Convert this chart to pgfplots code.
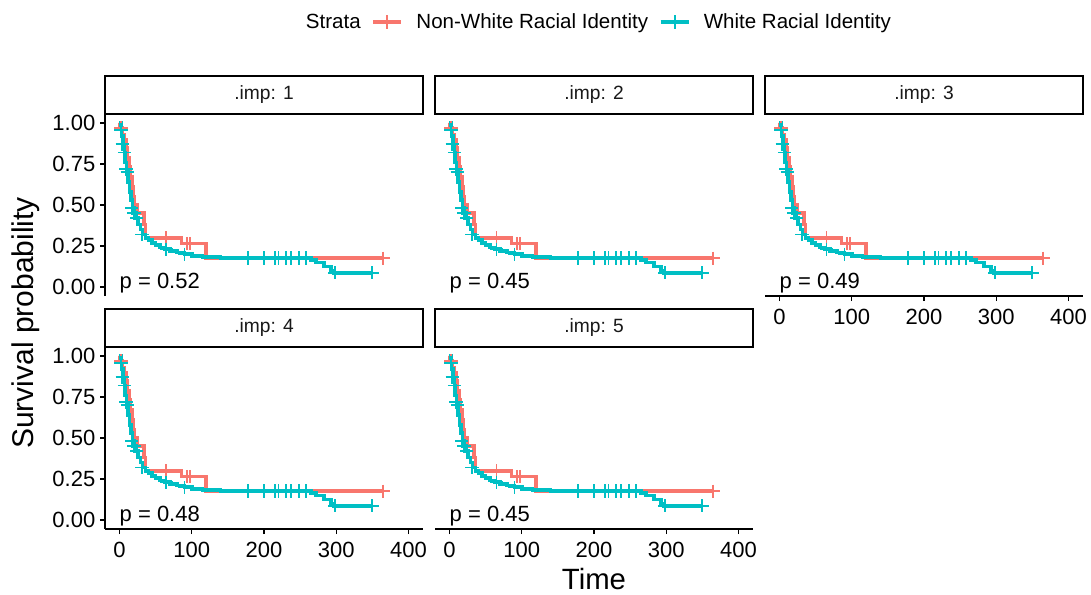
\documentclass[border=0pt]{standalone}
\usepackage{fontspec}
\setmainfont{Liberation Sans}
\usepackage{pgfplots}
\usepackage{pgfplotstable}
\pgfplotsset{compat=1.18}
\definecolor{nw}{HTML}{F8766D}
\definecolor{wh}{HTML}{00BFC4}

% Non-White Racial Identity: KM curve (time, survival)
\pgfplotstableread{
t s
0 1.00
1 0.97
4 0.93
6 0.90
9 0.85
11 0.79
13 0.73
15 0.67
17 0.61
19 0.55
21 0.50
24 0.45
34 0.38
36 0.30
86 0.265
120 0.175
365 0.175
}\nwcurve
\pgfplotstableread{
t s
2 0.97
65 0.30
93 0.265
98 0.265
365 0.175
}\nwcens

% White Racial Identity: KM curve (time, survival)
\pgfplotstableread{
t s
0 1.00
2 0.96
3 0.92
5 0.87
7 0.82
8 0.76
10 0.70
12 0.64
14 0.58
16 0.53
18 0.48
20 0.45
23 0.42
26 0.38
29 0.35
32 0.32
36 0.30
40 0.285
45 0.27
50 0.255
56 0.24
63 0.23
70 0.22
80 0.21
90 0.20
100 0.19
115 0.182
140 0.177
265 0.165
272 0.15
283 0.125
293 0.10
297 0.087
350 0.087
}\whcurve
\pgfplotstableread{
t s
2 0.96
4 0.87
7 0.82
9 0.72
11 0.70
17 0.48
20 0.45
24 0.42
31 0.32
65 0.23
90 0.20
178 0.177
200 0.177
215 0.177
220 0.177
231 0.177
237 0.177
248 0.177
258 0.177
298 0.087
350 0.087
}\whcens

\newcommand{\kmplots}{%
  \addplot[const plot, nw, line width=2.7pt, forget plot] table[x=t,y=s] {\nwcurve};
  \addplot[const plot, wh, line width=2.7pt, forget plot] table[x=t,y=s] {\whcurve};
  \addplot[only marks, mark=+, nw, mark size=5pt, mark options={line width=1.4pt}, forget plot] table[x=t,y=s] {\nwcens};
  \addplot[only marks, mark=+, wh, mark size=5pt, mark options={line width=1.4pt}, forget plot] table[x=t,y=s] {\whcens};
}
\newcommand{\strip}[1]{%
  \draw[line width=1.5pt, fill=white] (rel axis cs:0,1) rectangle (rel axis cs:1,1.2088);
  \node[font=\fontsize{14.4}{16}\selectfont, text=black!90] at (rel axis cs:0.5,1.1044) {#1};
}
\newcommand{\pval}[1]{%
  \node[anchor=west, inner sep=0pt, font=\fontsize{16.5}{18}\selectfont] at (axis cs:0,0.022) {#1};
}

\pgfplotsset{
  kmpanel/.style={
    scale only axis, width=238.5pt, height=136.5pt, anchor=north west,
    xmin=-20, xmax=420, ymin=-0.055, ymax=1.055,
    axis line style={line width=1pt, black},
    every tick/.style={line width=1pt, black},
    tick align=outside, major tick length=3.75pt,
    xtick={0,100,200,300,400}, ytick={0,0.25,0.5,0.75,1},
    yticklabels={0.00,0.25,0.50,0.75,1.00},
    tick label style={font=\fontsize{16.5}{18}\selectfont},
    xticklabel style={yshift=-2.5pt},
    /pgf/number format/assume math mode=true,
    clip=false,
  },
  showx/.style={axis x line*=bottom},
  hidex/.style={axis x line=none},
  showy/.style={axis y line*=left},
  hidey/.style={axis y line=none},
}

\begin{document}
\begin{tikzpicture}
\useasboundingbox (0,0) rectangle (818.25pt,-446.25pt);

% panel 1
\begin{axis}[kmpanel, hidex, showy, at={(78.75pt,-85.5pt)},
  legend style={at={(1.535,1.5055)}, anchor=center, draw=none, fill=none,
    font=\fontsize{15.4}{17}\selectfont, legend columns=-1,
    /tikz/every odd column/.append style={column sep=8pt},
    /tikz/every even column/.append style={column sep=6pt}},
  legend image code/.code={\draw[mark repeat=2, mark phase=2] plot coordinates {(0cm,0cm)(0.37cm,0cm)(0.74cm,0cm)};}]
\kmplots
\addlegendimage{empty legend}\addlegendentry{Strata}
\addlegendimage{nw, line width=2.7pt, mark=+, mark size=5pt, mark options={line width=1.4pt}}\addlegendentry{Non-White Racial Identity}
\addlegendimage{wh, line width=2.7pt, mark=+, mark size=5pt, mark options={line width=1.4pt}}\addlegendentry{White Racial Identity}
\strip{.imp: 1}
\pval{p = 0.52}
\end{axis}

% panel 2
\begin{axis}[kmpanel, hidex, hidey, at={(326.25pt,-85.5pt)}]
\kmplots
\strip{.imp: 2}
\pval{p = 0.45}
\end{axis}

% panel 3
\begin{axis}[kmpanel, showx, hidey, at={(573.75pt,-85.5pt)}]
\kmplots
\strip{.imp: 3}
\pval{p = 0.49}
\end{axis}

% panel 4
\begin{axis}[kmpanel, showx, showy, at={(78.75pt,-260.25pt)}]
\kmplots
\strip{.imp: 4}
\pval{p = 0.48}
\end{axis}

% panel 5
\begin{axis}[kmpanel, showx, hidey, at={(326.25pt,-260.25pt)}]
\kmplots
\strip{.imp: 5}
\pval{p = 0.45}
\end{axis}

\node[rotate=90, font=\fontsize{22.5}{24}\selectfont] at (19.1pt,-242.25pt) {Survival probability};
\node[font=\fontsize{22}{24}\selectfont] at (445.5pt,-434.5pt) {Time};
\end{tikzpicture}
\end{document}
